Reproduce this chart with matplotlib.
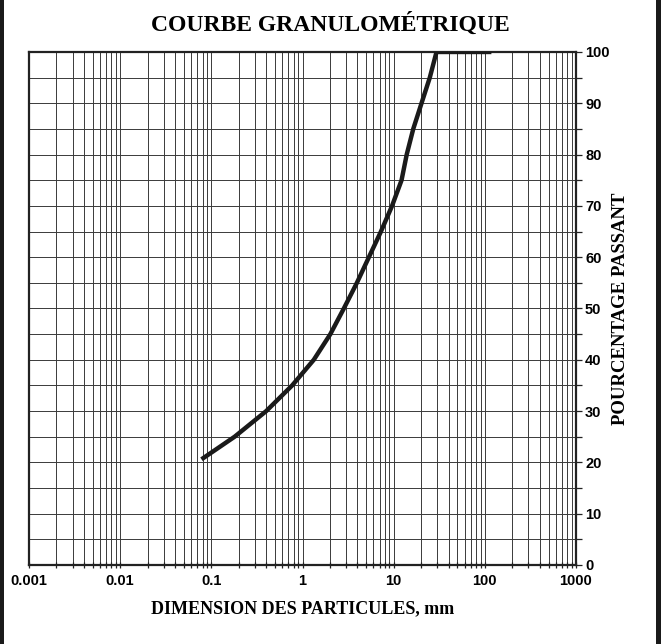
import numpy as np
import matplotlib
matplotlib.use("Agg")
import matplotlib.pyplot as plt
from matplotlib.ticker import LogLocator, MultipleLocator, FixedLocator, NullFormatter
from matplotlib.patches import Rectangle

# Courbe granulométrique : diamètre (mm) et pourcentage passant
diametre_mm = [0.078, 0.18, 0.40, 0.77, 1.33, 2.02, 2.84, 3.95, 5.35, 7.25,
               9.6, 12.2, 13.9, 16.4, 20.2, 24.9, 29.5, 118]
passant = [20.6, 25, 30, 35, 40, 45, 50, 55, 60, 65,
           70, 75, 80, 85, 90, 95, 100, 100]

x_ticks = [0.001, 0.01, 0.1, 1, 10, 100, 1000]
x_labels = ["0.001", "0.01", "0.1", "1", "10", "100", "1000"]

serif = "Liberation Serif"
sans = "Liberation Sans"

fig = plt.figure(figsize=(6.61, 6.44), dpi=100)
ax = fig.add_axes([0.0439, 0.1227, 0.8275, 0.7966])

ax.plot(diametre_mm, passant, color="#1a1a1a", lw=3.2, solid_capstyle="butt",
        solid_joinstyle="round", zorder=5)

ax.set_xscale("log")
ax.set_xlim(0.001, 1000)
ax.set_ylim(0, 100)

# axe x : toutes les subdivisions logarithmiques
ax.xaxis.set_major_locator(FixedLocator(x_ticks))
ax.set_xticklabels(x_labels, fontfamily=sans, fontweight="bold", fontsize=10.5)
ax.xaxis.set_minor_locator(LogLocator(base=10, subs=np.arange(2, 10), numticks=20))
ax.xaxis.set_minor_formatter(NullFormatter())
ax.tick_params(axis="x", which="both", direction="inout", length=5, width=0.9,
               color="#222222", pad=4)

# axe y à droite
ax.yaxis.tick_right()
ax.yaxis.set_major_locator(MultipleLocator(10))
ax.yaxis.set_minor_locator(MultipleLocator(5))
for lab in ax.get_yticklabels():
    lab.set_fontfamily(sans)
    lab.set_fontweight("bold")
    lab.set_fontsize(10.5)
ax.tick_params(axis="y", which="both", direction="out", length=4, width=0.9,
               color="#222222", pad=2.5, left=False)

ax.grid(True, which="both", axis="both", color="#3a3a3a", lw=0.7)
ax.set_axisbelow(True)
for s in ax.spines.values():
    s.set_linewidth(1.6)
    s.set_color("#222222")

fig.text(0.5, 0.963, "COURBE GRANULOMÉTRIQUE", ha="center", va="center",
         fontfamily=serif, fontweight="bold", fontsize=17)
ax.set_xlabel("DIMENSION DES PARTICULES, mm", fontfamily=serif,
              fontweight="bold", fontsize=13, labelpad=9)
fig.text(0.939, 0.52, "POURCENTAGE PASSANT", rotation=90, ha="center",
         va="center", fontfamily=serif, fontweight="bold", fontsize=13.5)

# bandes sombres des bords gauche et droit
fig.patches.append(Rectangle((0, 0), 0.006, 1, transform=fig.transFigure,
                             color="#1a1a1a", lw=0))
fig.patches.append(Rectangle((0.993, 0), 0.007, 1, transform=fig.transFigure,
                             color="#1a1a1a", lw=0))

fig.savefig("out.png", dpi=100)
